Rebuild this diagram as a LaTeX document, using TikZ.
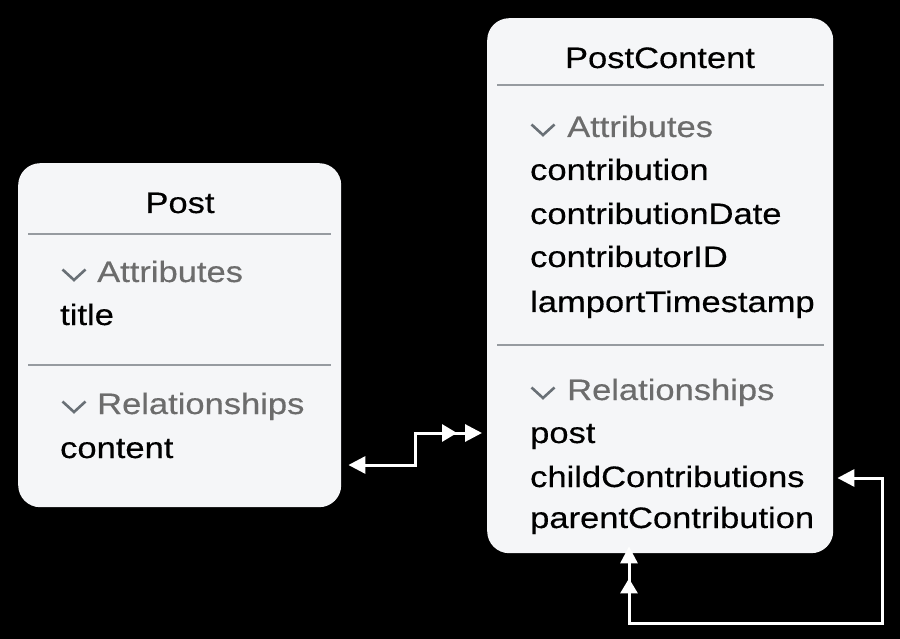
\documentclass[tikz,border=0pt]{standalone}
\usepackage{fontspec}
\setmainfont{Liberation Sans}[FakeStretch=1.17,FakeBold=0.4]
\usetikzlibrary{arrows.meta}
\definecolor{boxfill}{RGB}{245,246,248}
\definecolor{sepline}{RGB}{150,155,160}
\definecolor{hdrgray}{RGB}{108,108,108}
\definecolor{chevgray}{RGB}{105,112,118}
\begin{document}
\begin{tikzpicture}[x=1pt,y=-1pt,
  entity/.style={fill=boxfill,rounded corners=22pt,anchor=north west,inner sep=0pt},
  txt/.style={anchor=base west,inner sep=0pt,font=\fontsize{29.5}{30}\selectfont,text=black},
  ttl/.style={txt,anchor=base},
  hdr/.style={txt,text=hdrgray},
  sepl/.style={draw=sepline,line width=1.2pt},
  conn/.style={draw=white,line width=3pt},
  chevron/.pic={\draw[chevgray,line width=2.6pt] (-11.5,-5.5) -- (0,5) -- (11.5,-5.5);}
]
\fill[black] (0,0) rectangle (900,639);
\useasboundingbox (0,0) rectangle (900,639);

% Post entity
\node[entity,minimum width=323pt,minimum height=344pt] (post) at (18,163) {};
\node[ttl] (postT) at (180,213) {Post};
\draw[sepl] (28,234) -- (331,234);
\pic at (74,275) {chevron};
\node[hdr] (postA) at (97,282) {Attributes};
\node[txt] (postTitle) at (60,325) {title};
\draw[sepl] (28,365) -- (331,365);
\pic at (74,407) {chevron};
\node[hdr] (postR) at (97,414) {Relationships};
\node[txt] (postContent) at (60,458) {content};

% PostContent entity
\node[entity,minimum width=346pt,minimum height=535pt] (pc) at (487,18) {};
\node[ttl] (pcT) at (660,68) {PostContent};
\draw[sepl] (497,85) -- (824,85);
\pic at (543,130) {chevron};
\node[hdr] (pcA) at (567,137) {Attributes};
\node[txt] (pc1) at (530,180) {contribution};
\node[txt] (pc2) at (530,224) {contributionDate};
\node[txt] (pc3) at (530,267) {contributorID};
\node[txt] (pc4) at (530,312) {lamportTimestamp};
\draw[sepl] (497,345) -- (824,345);
\pic at (543,393) {chevron};
\node[hdr] (pcR) at (567,400) {Relationships};
\node[txt] (pc5) at (530,443) {post};
\node[txt] (pc6) at (530,487) {childContributions};
\node[txt] (pc7) at (530,528) {parentContribution};

% connectors
\coordinate (a1) at ([xshift=7pt]post.east |- 0,465);
\coordinate (a2) at ([xshift=-5pt]pc.west |- 0,433);
\draw[conn,{Triangle[length=17pt,width=17pt]}-{Triangle[length=15pt,width=17pt,sep=8pt]Triangle[length=17pt,width=17pt]}]
  (a1) -- (415,465) |- (a2);

\coordinate (b1) at ([xshift=4pt]pc.east |- 0,478);
\coordinate (b2) at ([yshift=7pt]pc.south -| 629,0);
\draw[conn,{Triangle[length=17pt,width=17pt]}-{Triangle[length=15pt,width=17pt,sep=15pt]Triangle[length=17pt,width=17pt]}]
  (b1) -- (882,478) |- (629,623) -- (b2);
\end{tikzpicture}
\end{document}
